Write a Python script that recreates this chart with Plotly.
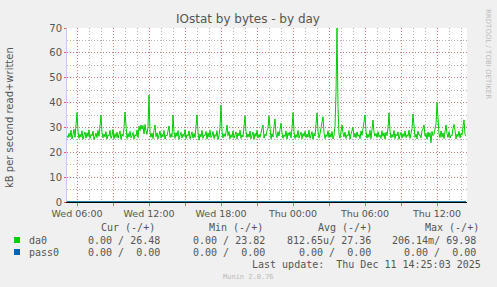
import plotly.graph_objects as go
import pandas as pd

# ---- data ----
start_time = "2025-12-10 05:10"
step_minutes = 5
da0_written = [
    26.8, 25.9, 27.6, 26.2, 28.9, 25.4, 27.1, 29.3, 26.0, 30.2, 36.0, 28.4, 25.6, 27.3, 26.1, 28.7, 25.2, 26.9, 28.1, 25.7,
    27.9, 26.3, 29.0, 25.5, 27.2, 26.6, 28.5, 25.1, 26.8, 27.7, 25.9, 28.8, 26.4, 29.6, 35.0, 28.0, 25.8, 27.4, 26.2, 28.3,
    25.3, 27.0, 26.5, 28.9, 25.6, 26.7, 29.2, 25.4, 27.5, 26.0, 28.1, 25.7, 26.9, 28.6, 25.2, 27.3, 26.4, 29.9, 36.2, 28.2,
    25.5, 27.6, 26.1, 28.4, 25.8, 26.6, 28.0, 25.3, 27.1, 26.5, 29.0, 25.9, 30.5, 28.7, 31.0, 29.3, 30.8, 27.4, 31.2, 28.6,
    27.2, 30.4, 43.0, 28.1, 26.0, 27.7, 25.5, 28.9, 31.0, 26.3, 27.8, 25.4, 26.9, 28.5, 25.7, 27.3, 26.2, 28.8, 25.3, 27.0,
    26.6, 28.2, 30.6, 25.9, 27.5, 26.1, 35.0, 28.3, 25.6, 27.9, 26.4, 28.7, 25.2, 26.8, 28.0, 25.8, 27.4, 26.3, 29.1, 25.5,
    27.1, 26.5, 28.6, 25.4, 26.9, 28.2, 25.7, 27.6, 26.0, 29.4, 35.1, 28.1, 24.9, 27.3, 26.2, 28.8, 25.6, 27.0, 26.7, 28.4,
    25.3, 27.8, 26.1, 28.9, 25.9, 26.6, 28.3, 25.5, 27.2, 26.4, 28.7, 25.2, 26.8, 30.1, 39.0, 28.5, 25.8, 27.5, 26.3, 28.0,
    31.0, 26.7, 28.4, 25.4, 27.1, 26.0, 28.6, 25.7, 26.9, 28.2, 25.3, 27.7, 26.5, 28.9, 25.6, 27.0, 26.2, 29.5, 34.6, 28.3,
    25.9, 27.4, 26.1, 28.5, 25.5, 26.8, 28.1, 25.2, 27.6, 26.4, 28.8, 25.8, 27.2, 26.0, 28.4, 29.7, 31.0, 25.7, 27.3, 26.6,
    28.7, 29.8, 34.6, 28.0, 25.4, 27.5, 26.2, 30.4, 33.4, 27.1, 25.9, 28.3, 26.5, 29.2, 31.7, 27.8, 25.6, 27.0, 26.3, 28.6,
    25.3, 27.9, 26.7, 28.2, 25.8, 29.6, 36.0, 28.4, 25.5, 27.2, 26.0, 28.8, 25.7, 26.9, 28.1, 25.4, 27.6, 26.4, 28.5, 25.9,
    27.3, 26.1, 28.9, 25.6, 26.8, 28.3, 25.2, 27.7, 26.5, 30.0, 35.8, 28.6, 25.8, 27.4, 29.9, 30.6, 34.3, 28.0, 25.5, 27.1,
    26.3, 28.7, 25.9, 27.5, 26.0, 28.4, 25.4, 26.9, 30.2, 44.0, 69.98, 38.0, 27.2, 25.7, 28.5, 31.0, 27.8, 26.2, 28.1, 25.6,
    27.0, 26.6, 28.8, 25.3, 27.4, 28.9, 30.0, 26.1, 27.7, 25.8, 28.2, 26.4, 27.1, 25.5, 28.6, 26.8, 29.3, 30.7, 35.0, 28.4,
    25.7, 27.3, 26.0, 28.9, 25.4, 29.1, 33.0, 28.0, 26.5, 27.6, 25.9, 28.3, 26.2, 27.0, 25.6, 28.7, 26.4, 27.8, 25.3, 28.1,
    26.7, 29.8, 35.8, 28.5, 25.8, 27.2, 26.1, 28.8, 25.5, 27.4, 26.6, 28.2, 25.2, 26.9, 28.0, 25.7, 27.5, 26.3, 28.6, 25.9,
    27.1, 26.4, 28.9, 25.6, 27.7, 29.6, 35.4, 28.3, 26.0, 27.3, 25.4, 28.5, 26.8, 27.0, 25.8, 28.7, 29.4, 31.0, 26.5, 27.6,
    25.3, 28.1, 26.2, 27.9, 23.82, 28.4, 26.7, 27.2, 29.0, 31.5, 40.0, 30.3, 27.5, 25.9, 28.6, 26.1, 27.8, 25.5, 29.2, 31.0,
    27.4, 26.0, 28.3, 25.7, 27.0, 26.6, 29.5, 31.2, 28.8, 25.4, 27.3, 26.3, 28.5, 25.8, 27.6, 26.9, 30.4, 33.0, 27.1, 26.48,
]
da0_read = [0.0] * len(da0_written)
pass0_read = [0.0] * len(da0_written)
pass0_written = [0.0] * len(da0_written)

x_range = ["2025-12-10 05:10", "2025-12-11 14:30"]
major_ticks = pd.date_range("2025-12-10 06:00", "2025-12-11 12:00", freq="3h")
tick_labels = ["Wed 06:00", "", "Wed 12:00", "", "Wed 18:00", "", "Thu 00:00", "", "Thu 06:00", "", "Thu 12:00"]
y_ticks = [0, 10, 20, 30, 40, 50, 60, 70]

legend_header = ["Cur (-/+)", "Min (-/+)", "Avg (-/+)", "Max (-/+)"]
legend_rows = [
    ("da0", "#00CC00", ["0.00 / 26.48", "0.00 / 23.82", "812.65u/ 27.36", "206.14m/ 69.98"]),
    ("pass0", "#0066B3", ["0.00 /  0.00", "0.00 /  0.00", "0.00 /  0.00", "0.00 /  0.00"]),
]
last_update = "Last update:  Thu Dec 11 14:25:03 2025"

times = pd.date_range(start_time, periods=len(da0_written), freq=f"{step_minutes}min")

# ---- figure ----
W, H = 497, 287
L, R, T, B = 67, 30, 28, 85
PW, PH = W - L - R, H - T - B

def px(x):
    return (x - L) / PW

def py(y):
    return (H - B - y) / PH

fig = go.Figure()
fig.add_trace(go.Scatter(x=times, y=da0_read, mode="lines", line=dict(color="#00CC00", width=1), hoverinfo="skip"))
fig.add_trace(go.Scatter(x=times, y=pass0_read, mode="lines", line=dict(color="#0066B3", width=1), hoverinfo="skip"))
fig.add_trace(go.Scatter(x=times, y=pass0_written, mode="lines", line=dict(color="#0066B3", width=1), hoverinfo="skip"))
fig.add_trace(go.Scatter(x=times, y=da0_written, mode="lines", line=dict(color="#00CC00", width=1), hoverinfo="skip"))

mono = "DejaVu Sans Mono"
sans = "DejaVu Sans"
txt = "#555555"

ann = []
ann.append(dict(text="IOstat by bytes - by day", x=px(248), y=py(19), xref="paper", yref="paper",
                showarrow=False, xanchor="center", yanchor="middle", font=dict(family=sans, size=12, color=txt)))
ann.append(dict(text="kB per second read+written", x=px(10), y=py(118), xref="paper", yref="paper",
                showarrow=False, xanchor="center", yanchor="middle", textangle=-90,
                font=dict(family=sans, size=10, color=txt)))
ann.append(dict(text="RRDTOOL / TOBI OETIKER", x=px(488), y=py(54), xref="paper", yref="paper",
                showarrow=False, xanchor="center", yanchor="middle", textangle=90,
                font=dict(family=sans, size=7, color="#bbbbbb")))
header_x = [99, 207, 316, 423]
for hx, h in zip(header_x, legend_header):
    ann.append(dict(text=h.replace(" ", "&nbsp;"), x=px(hx), y=py(227), xref="paper", yref="paper", showarrow=False,
                    xanchor="left", yanchor="middle", font=dict(family=mono, size=10, color=txt)))
val_right = [162, 267, 373, 478]
row_y = [240, 252]
shapes = []
for (name, col, vals), ry in zip(legend_rows, row_y):
    shapes.append(dict(type="rect", xref="paper", yref="paper", x0=px(14), x1=px(20), y0=py(ry + 3), y1=py(ry - 3),
                       fillcolor=col, line=dict(width=0)))
    ann.append(dict(text=name, x=px(26.5), y=py(ry), xref="paper", yref="paper", showarrow=False,
                    xanchor="left", yanchor="middle", font=dict(family=mono, size=10, color=txt)))
    for vx, v in zip(val_right, vals):
        ann.append(dict(text=v.replace(" ", "&nbsp;"), x=px(vx), y=py(ry), xref="paper", yref="paper", showarrow=False,
                        xanchor="right", yanchor="middle", font=dict(family=mono, size=10, color=txt)))
ann.append(dict(text=last_update.replace(" ", "&nbsp;"), x=px(483), y=py(264), xref="paper", yref="paper",
                showarrow=False, xanchor="right", yanchor="middle", font=dict(family=mono, size=10, color=txt)))
ann.append(dict(text="Munin 2.0.76", x=px(248), y=py(277), xref="paper", yref="paper",
                showarrow=False, xanchor="center", yanchor="middle", font=dict(family=mono, size=7, color="#bbbbbb")))

major_grid = "rgba(235,60,60,0.45)"
minor_grid = "rgba(120,120,120,0.55)"

fig.update_layout(
    width=W, height=H,
    margin=dict(l=L, r=R, t=T, b=B, pad=0),
    paper_bgcolor="#F0F0F0",
    plot_bgcolor="#FFFFFF",
    showlegend=False,
    annotations=ann,
    shapes=shapes,
    xaxis=dict(
        type="date", range=x_range, tickmode="array", tickvals=list(major_ticks), ticktext=tick_labels,
        showgrid=True, gridcolor=major_grid, griddash="1px,2px", gridwidth=1,
        ticks="outside", ticklen=3, tickcolor="#e06060", tickwidth=1,
        tickfont=dict(family=sans, size=9.5, color=txt),
        showline=True, linecolor="#000000", linewidth=1,
        zeroline=False, fixedrange=True,
        minor=dict(dtick=3600000, tick0="2025-12-10 00:00", showgrid=True, gridcolor=minor_grid,
                   griddash="1px,2px", gridwidth=1),
    ),
    yaxis=dict(
        range=[0, 70], tickmode="array", tickvals=y_ticks,
        showgrid=True, gridcolor=major_grid, griddash="1px,2px", gridwidth=1,
        ticks="outside", ticklen=2, tickcolor="#e06060",
        tickfont=dict(family=sans, size=10, color=txt),
        showline=True, linecolor="#c8c8f0", linewidth=1,
        zeroline=False, fixedrange=True,
        minor=dict(dtick=5, showgrid=True, gridcolor=minor_grid, griddash="1px,2px", gridwidth=1),
    ),
)

fig.write_html("out.html")
